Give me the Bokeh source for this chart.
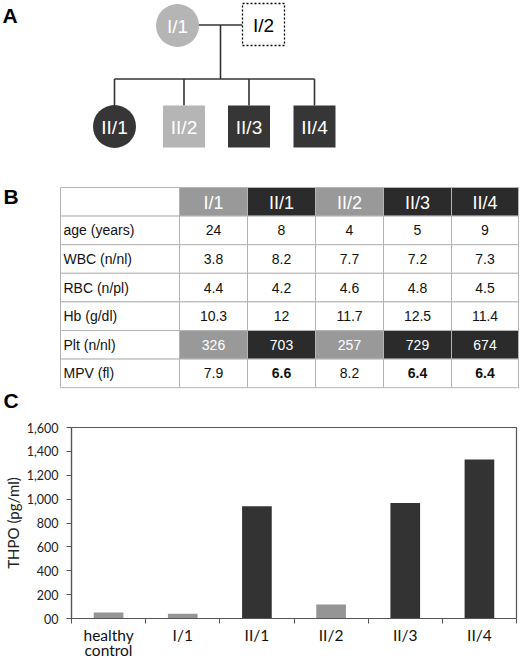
from bokeh.plotting import figure
from bokeh.layouts import column
from bokeh.models import Range1d, FixedTicker, NumeralTickFormatter
from bokeh.core.properties import value
from bokeh.embed import file_html
from bokeh.resources import INLINE

# ---------------- data ----------------
# pedigree (panel A)
ped_ids = ["I/1", "I/2", "II/1", "II/2", "II/3", "II/4"]
ped_shape = ["circle", "square", "circle", "square", "square", "square"]
ped_status = ["light", "unknown", "dark", "light", "dark", "dark"]

# table (panel B)
table_cols = ["I/1", "II/1", "II/2", "II/3", "II/4"]
col_status = ["light", "dark", "light", "dark", "dark"]
row_labels = ["age (years)", "WBC (n/nl)", "RBC (n/pl)", "Hb (g/dl)", "Plt (n/nl)", "MPV (fl)"]
age = ["24", "8", "4", "5", "9"]
wbc = ["3.8", "8.2", "7.7", "7.2", "7.3"]
rbc = ["4.4", "4.2", "4.6", "4.8", "4.5"]
hb = ["10.3", "12", "11.7", "12.5", "11.4"]
plt_counts = ["326", "703", "257", "729", "674"]
mpv = ["7.9", "6.6", "8.2", "6.4", "6.4"]
mpv_bold = [False, True, False, True, True]

# bar chart (panel C)
groups = ["healthy\ncontrol", "I/1", "II/1", "II/2", "II/3", "II/4"]
thpo = [50, 40, 941, 117, 967, 1331]
bar_status = ["light", "light", "dark", "light", "dark", "dark"]
y_ticks = [0, 200, 400, 600, 800, 1000, 1200, 1400, 1600]

# ---------------- styles ----------------
PED_FILL = {"light": "#b5b5b5", "dark": "#363636", "unknown": "white"}
TAB_FILL = {"light": "#999999", "dark": "#2b2b2b"}
BAR_FILL = {"light": "#959595", "dark": "#333333"}
ARIAL = value("Liberation Sans")
LINE = "#333333"
GRID = "#b4b4b4"

# ---------------- top figure: A + B ----------------
TOP_H = 415
top = figure(width=520, height=TOP_H, x_range=Range1d(0, 520), y_range=Range1d(TOP_H, 0),
             output_backend="svg", toolbar_location=None, frame_align=False,
             min_border=0, x_axis_location=None, y_axis_location=None)
top.outline_line_color = None
top.grid.visible = False
top.background_fill_color = "white"

# panel letters
top.text(x=[2, 3, 3], y=[15, 196, 400], text=["A", "B", "C"], text_font=ARIAL,
         text_font_style="bold", text_font_size="21px", text_baseline="middle",
         text_align="left", text_color="black")

# pedigree layout
ped_x = [177, 263, 114, 183.5, 248.5, 314]
ped_y = [25, 24, 126, 126, 126, 126]
gen1_y = 24.5
sib_y = 78.5
child_top = 105
top.segment(x0=[198, 220, ped_x[2]], y0=[gen1_y, gen1_y, sib_y],
            x1=[242, 220, ped_x[5]], y1=[gen1_y, sib_y, sib_y],
            line_color=LINE, line_width=1.6)
top.segment(x0=ped_x[2:], y0=[sib_y] * 4, x1=ped_x[2:], y1=[child_top] * 4,
            line_color=LINE, line_width=1.6)

for i, pid in enumerate(ped_ids):
    st = ped_status[i]
    fill = PED_FILL[st]
    if ped_shape[i] == "circle":
        top.circle(x=[ped_x[i]], y=[ped_y[i]], radius=21.5, fill_color=fill, line_color=None)
    else:
        if st == "unknown":
            top.rect(x=[ped_x[i]], y=[ped_y[i]], width=42, height=42, fill_color="white",
                     line_color="black", line_width=1.3, line_dash="2 2")
        else:
            top.rect(x=[ped_x[i]], y=[ped_y[i]], width=42, height=42, fill_color=fill,
                     line_color=None)
    top.text(x=[ped_x[i]], y=[ped_y[i] + 1], text=[pid], text_font=ARIAL,
             text_font_size="19px", text_align="center", text_baseline="middle",
             text_color="black" if st == "unknown" else "white")

# table layout
col_edges = [60, 179, 247, 315, 383, 451, 518]
row_top = 187
row_h = 28.6
n_rows = len(row_labels) + 1
rows_data = [age, wbc, rbc, hb, plt_counts, mpv]

lefts, rights, tops_, bottoms, fills = [], [], [], [], []
for r in range(n_rows):
    for c in range(len(col_edges) - 1):
        lefts.append(col_edges[c]); rights.append(col_edges[c + 1])
        tops_.append(row_top + r * row_h); bottoms.append(row_top + (r + 1) * row_h)
        if c > 0 and (r == 0 or r == 5):
            fills.append(TAB_FILL[col_status[c - 1]])
        else:
            fills.append("white")
top.quad(left=lefts, right=rights, top=tops_, bottom=bottoms, fill_color=fills,
         line_color=GRID, line_width=1)

cx = [(col_edges[c] + col_edges[c + 1]) / 2 for c in range(1, len(col_edges) - 1)]
top.text(x=cx, y=[row_top + row_h / 2 + 1] * 5, text=table_cols, text_font=ARIAL,
         text_font_size="18px", text_align="center", text_baseline="middle", text_color="white")
ry = [row_top + (r + 1.5) * row_h for r in range(len(row_labels))]
top.text(x=[63] * len(row_labels), y=ry, text=row_labels, text_font=ARIAL,
         text_font_size="14px", text_align="left", text_baseline="middle", text_color="#111111")
for r, vals in enumerate(rows_data):
    for c, v in enumerate(vals):
        bold = (r == 5 and mpv_bold[c])
        top.text(x=[cx[c]], y=[ry[r]], text=[v], text_font=ARIAL, text_font_size="14px",
                 text_font_style="bold" if bold else "normal",
                 text_align="center", text_baseline="middle",
                 text_color="white" if r == 4 else "#111111")

# ---------------- bar chart (C) ----------------
pc = figure(width=520, height=661 - TOP_H, x_range=Range1d(0, len(groups)), y_range=Range1d(0, 1600),
            output_backend="svg", toolbar_location=None, frame_align=False,
            min_border_left=62, min_border_right=4, min_border_top=12, min_border_bottom=42)
pc.grid.visible = False
pc.outline_line_color = "#555555"
pc.outline_line_width = 1.2

centers = [i + 0.5 for i in range(len(groups))]
pc.vbar(x=centers, top=thpo, width=0.4, bottom=0,
        fill_color=[BAR_FILL[s] for s in bar_status], line_color=None)

CAL = "Lato"
ya = pc.yaxis[0]
ya.ticker = FixedTicker(ticks=y_ticks, minor_ticks=[])
ya.formatter = NumeralTickFormatter(format="0,0")
ya.major_label_overrides = {0: "00"}
ya.major_tick_in = 0
ya.major_tick_out = 5
ya.minor_tick_line_color = None
ya.major_tick_line_color = "#555555"
ya.axis_line_color = "#555555"
ya.axis_line_width = 1.2
ya.major_label_text_font = CAL
ya.major_label_text_font_size = "12.5px"
ya.major_label_text_color = "#222222"
ya.major_label_standoff = 8
ya.axis_label = "THPO (pg/ml)"
ya.axis_label_text_font = CAL
ya.axis_label_text_font_style = "normal"
ya.axis_label_text_font_size = "15px"
ya.axis_label_text_color = "#222222"
ya.axis_label_standoff = 2

xa = pc.xaxis[0]
xa.ticker = FixedTicker(ticks=centers, minor_ticks=list(range(len(groups) + 1)))
xa.major_label_overrides = {centers[i]: groups[i] for i in range(len(groups))}
xa.major_tick_line_color = None
xa.major_tick_in = 0
xa.major_tick_out = 0
xa.minor_tick_in = 0
xa.minor_tick_out = 5
xa.minor_tick_line_color = "#555555"
xa.axis_line_color = "#555555"
xa.axis_line_width = 1.2
xa.major_label_text_font = CAL
xa.major_label_text_font_size = "15.5px"
xa.major_label_text_color = "#111111"
xa.major_label_standoff = 2
xa.major_label_text_line_height = 0.85

layout = column(top, pc, spacing=0)

open("out.html", "w").write(file_html(layout, INLINE))
